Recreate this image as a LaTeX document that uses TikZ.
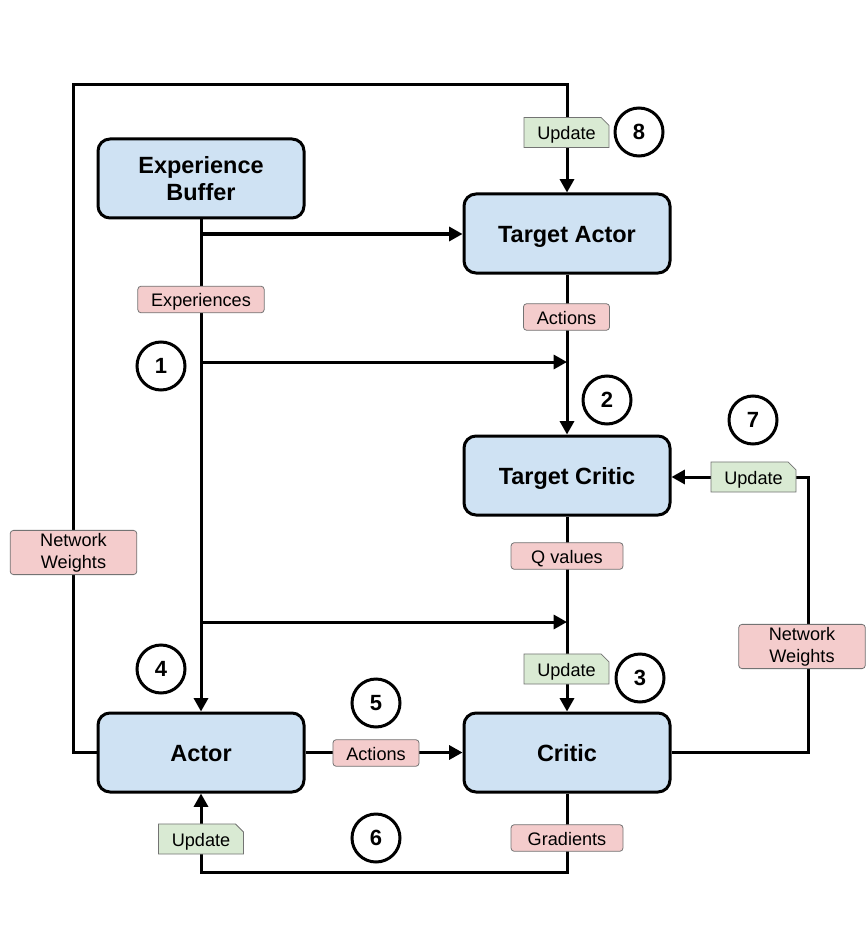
\documentclass[tikz,border=0pt]{standalone}
\usepackage{fontspec}
\setmainfont{Liberation Sans}
\usepackage{tikz}
\usetikzlibrary{arrows.meta, positioning, shapes.misc}
\definecolor{boxBlue}{HTML}{CFE2F3}
\definecolor{tagPink}{HTML}{F4CCCC}
\definecolor{tagGreen}{HTML}{D9EAD3}
\definecolor{tagEdge}{gray}{0.45}

\begin{document}
\begin{tikzpicture}[x=0.75pt, y=-0.75pt,
    netbox/.style={draw, line width=2.25pt, fill=boxBlue, rounded corners=9pt,
        minimum width=154.5pt, minimum height=59.25pt, align=center,
        font=\fontsize{17.6}{20.5}\selectfont\bfseries},
    boxline/.style={text height=16pt, text depth=2pt},
    tagline/.style={text height=12.6pt, text depth=2pt},
    datatag/.style={draw=tagEdge, line width=0.6pt, fill=tagPink, rounded corners=2.5pt,
        minimum height=20pt, inner xsep=10pt, inner ysep=2pt, align=center,
        font=\fontsize{13.6}{16.5}\selectfont},
    updtag/.style={draw=tagEdge, line width=0.6pt, fill=tagGreen, chamfered rectangle,
        chamfered rectangle corners=north east, chamfered rectangle xsep=3pt,
        chamfered rectangle ysep=3pt, minimum height=20pt, minimum width=63.75pt,
        inner xsep=5pt, inner ysep=1pt, font=\fontsize{13.6}{16.5}\selectfont, tagline},
    stepnum/.style={draw, circle, line width=2.25pt, minimum size=36pt, inner sep=0pt,
        font=\fontsize{16.5}{19}\selectfont\bfseries},
    flow/.style={line width=2.25pt, -{Triangle[length=10pt, width=10.5pt]}}]
    \useasboundingbox (0,0) rectangle (866,934);

    % networks
    \node[netbox] (buffer) at (201,178.5) {Experience\\Buffer};
    \node[netbox, boxline] (tactor) at (567,233.5) {Target Actor};
    \node[netbox, boxline] (tcritic) at (567,475.5) {Target Critic};
    \node[netbox, boxline] (actor) at (201,752.5) {Actor};
    \node[netbox, boxline] (critic) at (567,752.5) {Critic};

    % junctions
    \coordinate (jA) at (201,234);
    \coordinate (jB) at (201,362);
    \coordinate (jC) at (201,622);
    \coordinate (topleft) at (73,85);
    \coordinate (rturn) at (808,477);
    \coordinate (bturn) at (567,872);

    \draw[flow] (buffer.south) -- (actor.north);
    \draw[flow] (jA) -- (jA -| tactor.west);
    \draw[flow] (jB) -- (jB -| tcritic.north);
    \draw[flow] (jC) -- (jC -| critic.north);
    \draw[flow] (tactor.south) -- (tcritic.north);
    \draw[flow] (tcritic.south) -- (critic.north);
    \draw[flow] (actor.east) -- (critic.west);
    \draw[flow] (actor.west) -| (topleft) -| (tactor.north);
    \draw[flow] (critic.east) -| (rturn) -- (rturn -| tcritic.east);
    \draw[flow] (critic.south) -- (bturn) -| (actor.south);

    % tags on the wires
    \node[datatag, tagline] (expTag) at (201,299.5) {Experiences};
    \node[datatag, tagline] (actTagA) at (566.5,317) {Actions};
    \node[datatag, tagline, minimum width=84pt] (qTag) at (567,556) {Q values};
    \node[datatag, tagline] (actTagB) at (376,753) {Actions};
    \node[datatag, tagline, minimum width=84pt] (gradTag) at (567,838) {Gradients};
    \node[datatag, minimum width=95pt] (nwTagL) at (73.5,552.5) {Network\\Weights};
    \node[datatag, minimum width=95pt] (nwTagR) at (802,646.5) {Network\\Weights};
    \node[updtag] (updTA) at (566.5,132.5) {Update};
    \node[updtag] (updTC) at (753.5,477) {Update};
    \node[updtag] (updC) at (566.5,669) {Update};
    \node[updtag] (updA) at (201,839) {Update};

    % step numbers
    \node[stepnum] (s1) at (161,366) {1};
    \node[stepnum] (s2) at (607,400) {2};
    \node[stepnum] (s3) at (640,678) {3};
    \node[stepnum] (s4) at (161,669) {4};
    \node[stepnum] (s5) at (376,703) {5};
    \node[stepnum] (s6) at (376,838) {6};
    \node[stepnum] (s7) at (753,420) {7};
    \node[stepnum] (s8) at (639,132) {8};
\end{tikzpicture}
\end{document}
